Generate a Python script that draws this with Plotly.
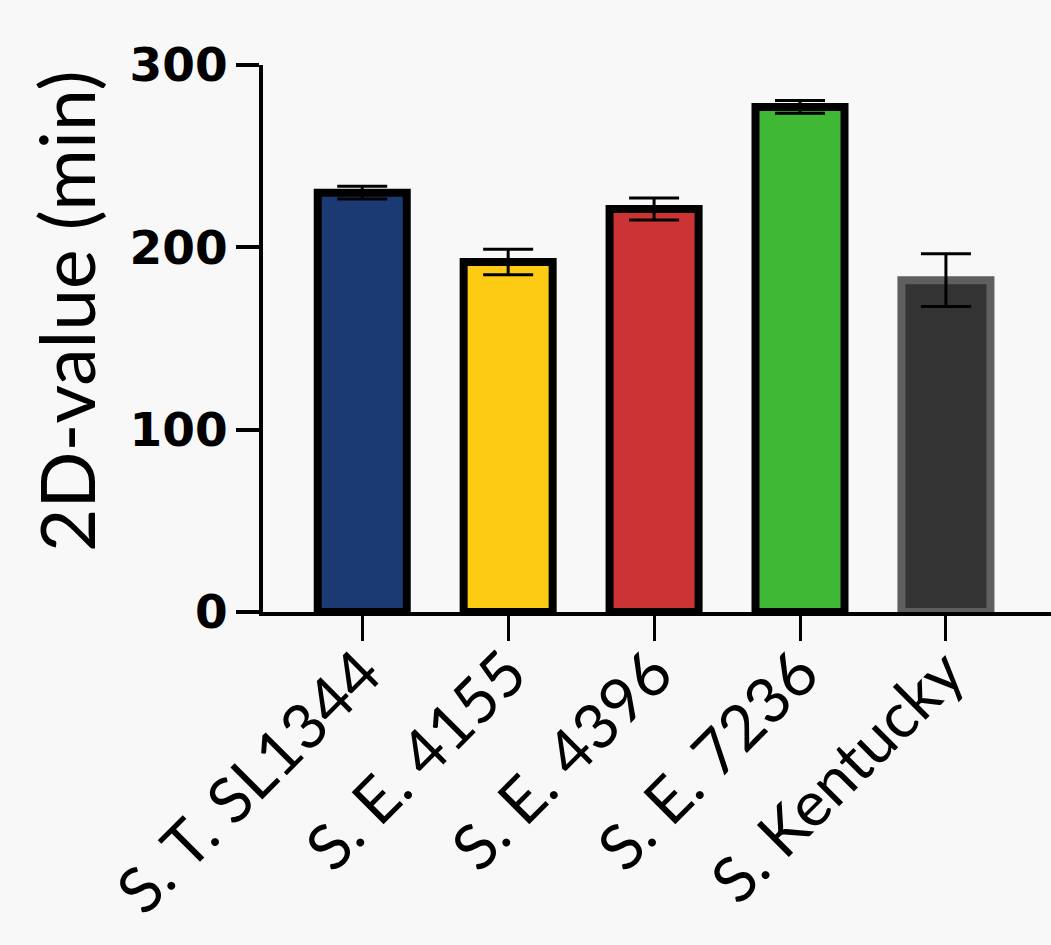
import plotly.graph_objects as go

# Strains and their 2D-values (mean ± SD, minutes)
strains = ["S. T. SL1344", "S. E. 4155", "S. E. 4396", "S. E. 7236", "S. Kentucky"]
d_values = [230, 192, 221, 277, 182]
d_errors = [3.5, 7, 6, 3.5, 14.5]
fill_colors = ["#1b3a74", "#fdcb14", "#cc3335", "#3fb935", "#333333"]
edge_colors = ["#000000", "#000000", "#000000", "#000000", "#5f5f5f"]
y_ticks = [0, 100, 200, 300]

bg = "#f8f8f9"

fig = go.Figure()
fig.add_trace(go.Bar(
    x=strains,
    y=d_values,
    width=0.61,
    marker=dict(color=fill_colors, line=dict(color=edge_colors, width=8)),
    error_y=dict(type="data", array=d_errors, visible=True,
                 color="black", thickness=3, width=25),
))

fig.update_layout(
    width=1051, height=945,
    margin=dict(l=263, r=0, t=65, b=333),
    paper_bgcolor=bg, plot_bgcolor=bg,
    showlegend=False,
    xaxis=dict(
        range=[-0.68, 4.72],
        automargin=False,
        showline=True, linecolor="black", linewidth=4,
        ticks="outside", ticklen=25, tickwidth=3, tickcolor="black",
        tickangle=-45, ticklabelstandoff=-30,
        tickfont=dict(family="Lato", size=63, color="black"),
        showgrid=False, zeroline=False,
    ),
    yaxis=dict(
        range=[0, 300],
        automargin=False,
        tickvals=y_ticks,
        showline=True, linecolor="black", linewidth=4,
        ticks="outside", ticklen=23, tickwidth=4, tickcolor="black",
        ticklabelstandoff=-1,
        tickfont=dict(family="DejaVu Sans", size=47, color="black", weight="bold"),
        showgrid=False, zeroline=False,
    ),
    annotations=[dict(
        text="2D-value (min)", textangle=-90,
        xref="paper", yref="paper",
        x=(66 - 263) / 788, y=(612 - 311) / 547,
        xanchor="center", yanchor="middle", showarrow=False,
        font=dict(family="Lato", size=75, color="black"),
    )],
)

fig.write_html("out.html")
